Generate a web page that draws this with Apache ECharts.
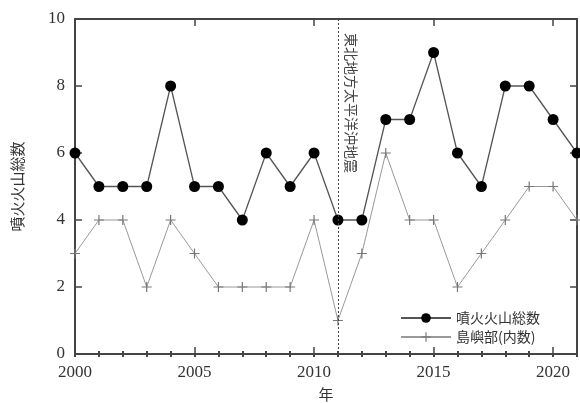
<!DOCTYPE html>
<html lang="ja">
<head>
  <meta charset="utf-8">
  <title>噴火火山総数</title>
  <script src="https://cdn.jsdelivr.net/npm/echarts@6/dist/echarts.min.js"></script>
</head>
<body style="margin:0">
  <div id="main" style="width:580px;height:403px;"></div>

<script type="text/javascript">
// 年
var years = [2000, 2001, 2002, 2003, 2004, 2005, 2006, 2007, 2008, 2009, 2010,
             2011, 2012, 2013, 2014, 2015, 2016, 2017, 2018, 2019, 2020, 2021];
// 噴火火山総数
var total = [6, 5, 5, 5, 8, 5, 5, 4, 6, 5, 6, 4, 4, 7, 7, 9, 6, 5, 8, 8, 7, 6];
// 島嶼部(内数)
var island = [3, 4, 4, 2, 4, 3, 2, 2, 2, 2, 4, 1, 3, 6, 4, 4, 2, 3, 4, 5, 5, 4];
var quakeYear = 2011;
var quakeText = '東北地方太平洋沖地震';

var serif = '"Liberation Serif", "DejaVu Serif", serif';
var cjk = '"Noto Sans CJK JP", sans-serif';

function pairs(ys) {
    var out = [];
    for (var i = 0; i < years.length; i++) {
        out.push([years[i], ys[i]]);
    }
    return out;
}

function frameLine() {
    return {show: true, onZero: false, lineStyle: {color: '#444', width: 2}};
}
function tick(len, w) {
    return {show: true, inside: true, length: len, lineStyle: {color: '#444', width: w}};
}
var plusSymbol = 'path://M4.4,0H5.6V4.4H10V5.6H5.6V10H4.4V5.6H0V4.4H4.4Z';

var myChart = echarts.init(document.getElementById('main'));

var option = {
    animation: false,
    grid: {left: 75, right: 3, top: 19, bottom: 49, outerBoundsMode: 'none'},
    xAxis: [{
        type: 'value', min: 2000, max: 2021, interval: 5,
        name: '年', nameLocation: 'middle', nameGap: 33,
        nameTextStyle: {fontFamily: cjk, fontSize: 15, color: '#333'},
        axisLine: frameLine(),
        axisTick: tick(7, 1.5),
        minorTick: {show: true, splitNumber: 5, length: 3, lineStyle: {color: '#444', width: 2}},
        axisLabel: {fontFamily: serif, fontSize: 17, color: '#333', margin: 10, showMaxLabel: false,
                    formatter: function (v) { return String(v); }},
        splitLine: {show: false}
    }, {
        // 上辺（5年ごとの目盛り）
        type: 'value', min: 2000, max: 2021, interval: 5, position: 'top',
        axisLine: frameLine(),
        axisTick: tick(7, 1.5),
        axisLabel: {show: false},
        splitLine: {show: false}
    }, {
        // 上辺（1年ごとの目盛り）
        type: 'value', min: 2000, max: 2021, interval: 1, position: 'top',
        axisLine: {show: false},
        axisTick: tick(3, 2),
        axisLabel: {show: false},
        splitLine: {show: false}
    }],
    yAxis: [{
        type: 'value', min: 0, max: 10, interval: 2,
        name: '噴火火山総数', nameLocation: 'middle', nameGap: 50, nameRotate: 90,
        nameTextStyle: {fontFamily: cjk, fontSize: 15, color: '#333'},
        axisLine: frameLine(),
        axisTick: tick(7, 1.5),
        axisLabel: {fontFamily: serif, fontSize: 17, color: '#333', margin: 10},
        splitLine: {show: false}
    }, {
        type: 'value', min: 0, max: 10, interval: 2, position: 'right',
        axisLine: frameLine(),
        axisTick: tick(7, 1.5),
        axisLabel: {show: false},
        splitLine: {show: false}
    }],
    legend: {
        orient: 'vertical', left: 395, top: 306,
        itemWidth: 50, itemHeight: 12, itemGap: 5,
        textStyle: {fontFamily: cjk, fontSize: 14, color: '#333'},
        data: ['噴火火山総数', '島嶼部(内数)']
    },
    series: [{
        name: '噴火火山総数',
        type: 'line',
        data: pairs(total),
        symbol: 'circle', symbolSize: 11,
        itemStyle: {color: '#000'},
        lineStyle: {color: '#555', width: 1.3},
        z: 3,
        markLine: {
            silent: true, symbol: 'none',
            lineStyle: {color: '#444', type: [2, 2], width: 1},
            label: {
                show: true, position: 'insideStartTop', distance: [14, 6],
                formatter: quakeText,
                fontFamily: cjk, fontSize: 14, color: '#444'
            },
            data: [[{coord: [quakeYear, 10]}, {coord: [quakeYear, 0]}]]
        }
    }, {
        name: '島嶼部(内数)',
        type: 'line',
        data: pairs(island),
        symbol: plusSymbol, symbolSize: 10,
        itemStyle: {color: '#777'},
        lineStyle: {color: '#999', width: 1},
        z: 2
    }]
};

myChart.setOption(option);
</script>
</body>
</html>
